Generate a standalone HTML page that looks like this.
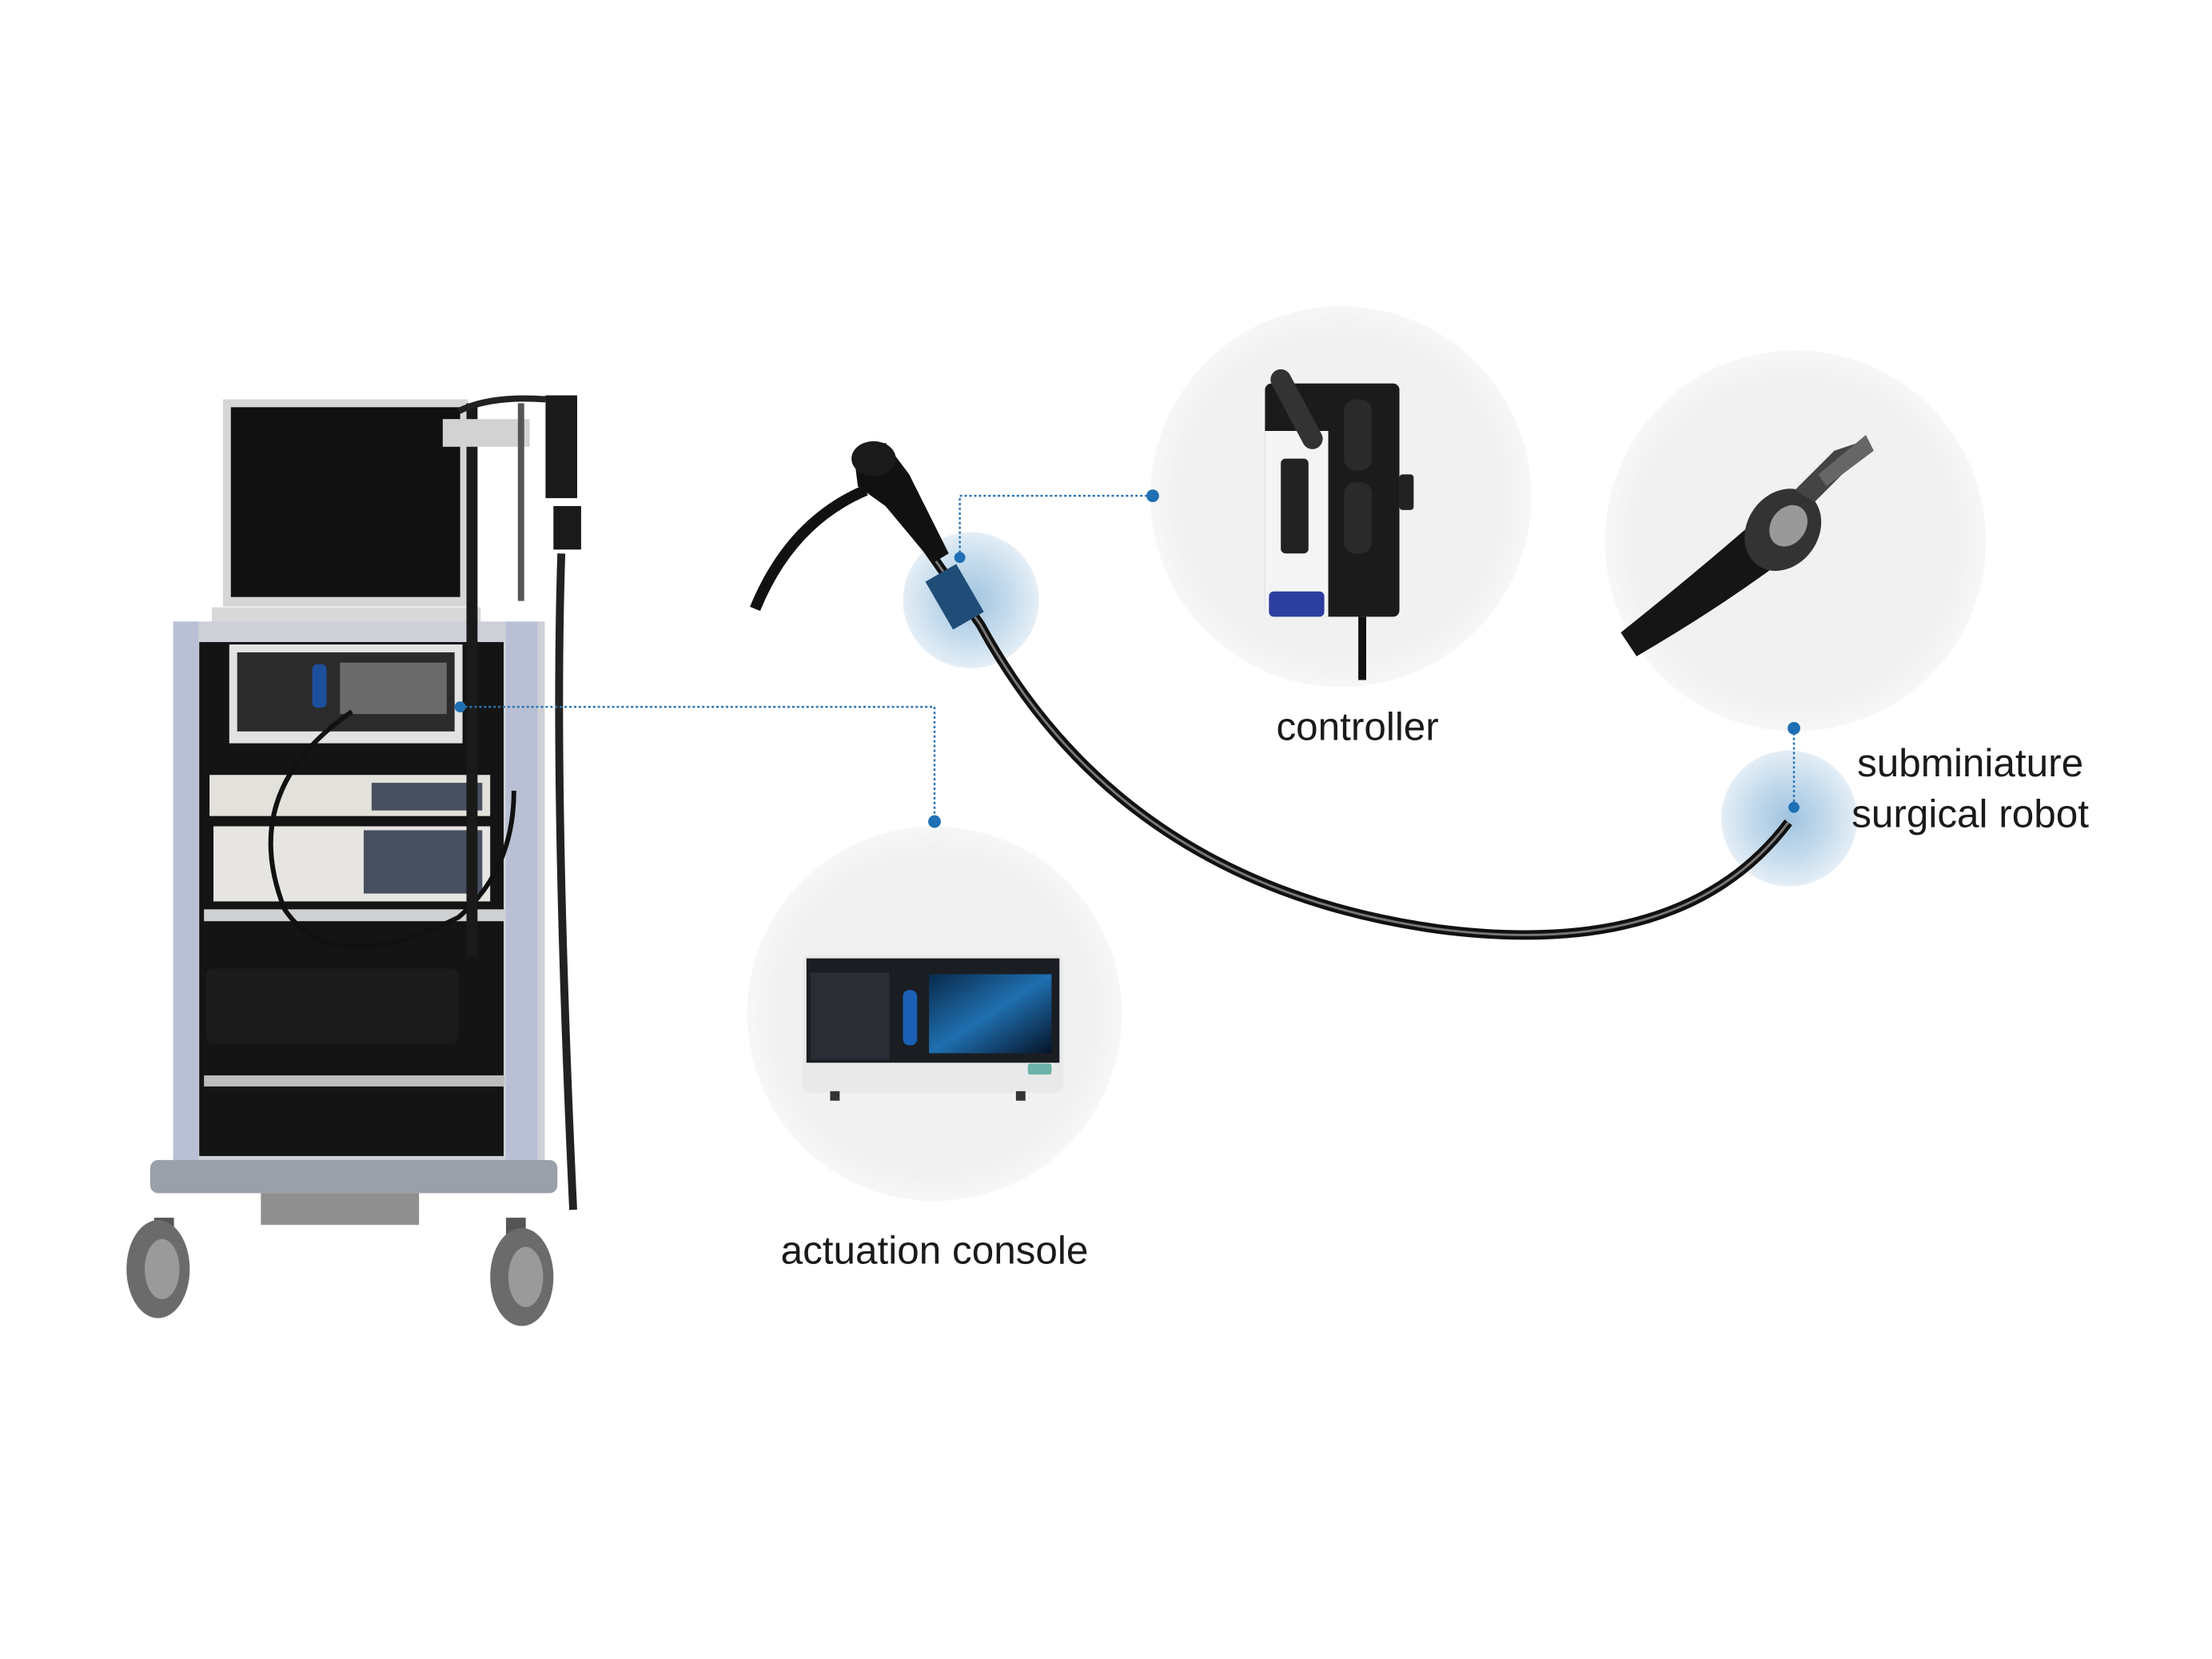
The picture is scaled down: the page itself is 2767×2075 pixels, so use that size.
<!DOCTYPE html>
<html><head><meta charset="utf-8"><style>
html,body{margin:0;padding:0;background:#fff;}
svg{display:block}
text{font-family:"Liberation Sans",sans-serif;fill:#1a1a1a}
</style></head><body>
<svg width="2767" height="2075" viewBox="0 0 2767 2075" xmlns="http://www.w3.org/2000/svg">
<defs>
<radialGradient id="glow" cx="50%" cy="50%" r="50%">
<stop offset="0" stop-color="#9fc3e0"/><stop offset="0.6" stop-color="#c6dced"/><stop offset="1" stop-color="#e4eef6"/>
</radialGradient>
<radialGradient id="disc" cx="50%" cy="50%" r="50%">
<stop offset="0.85" stop-color="#f1f1f1"/><stop offset="1" stop-color="#f7f7f7"/>
</radialGradient>
<linearGradient id="scr" x1="0" y1="0" x2="1" y2="1"><stop offset="0" stop-color="#0a2a4a"/><stop offset="0.5" stop-color="#1f6fb0"/><stop offset="1" stop-color="#061428"/></linearGradient>
</defs>
<rect width="2767" height="2075" fill="#fff"/>
<g transform="scale(0.989)">
<!-- big circles -->
<circle cx="1696" cy="628" r="241" fill="url(#disc)"/>
<circle cx="2271" cy="684" r="241" fill="url(#disc)"/>
<circle cx="1182" cy="1282" r="237" fill="url(#disc)"/>

<!-- glow circles -->
<circle cx="1228" cy="759" r="86" fill="url(#glow)"/>
<circle cx="2263" cy="1035" r="86" fill="url(#glow)"/>

<!-- endoscope tube -->
<path d="M1170 690 L1240 790 Q1420 1120 1820 1175 Q2130 1215 2262 1040" fill="none" stroke="#111" stroke-width="12"/>
<path d="M1170 690 L1240 790 Q1420 1120 1820 1175 Q2130 1215 2262 1040" fill="none" stroke="#777" stroke-width="3"/>
<path d="M1095 620 Q1000 660 955 770" fill="none" stroke="#111" stroke-width="14"/>
<path d="M1080 575 L1120 560 L1150 600 L1200 700 L1180 712 L1120 640 L1085 615 Z" fill="#111"/>
<ellipse cx="1105" cy="580" rx="28" ry="22" fill="#1a1a1a"/>
<rect x="1185" y="720" width="45" height="70" fill="#1f4d78" transform="rotate(-30 1207 755)"/>

<!-- controller device -->
<g>
<rect x="1600" y="485" width="170" height="295" rx="8" fill="#1b1b1b"/>
<rect x="1600" y="545" width="80" height="235" fill="#f4f4f4"/>
<rect x="1620" y="580" width="35" height="120" rx="6" fill="#222"/>
<rect x="1700" y="505" width="35" height="90" rx="14" fill="#2a2a2a"/>
<rect x="1700" y="610" width="35" height="90" rx="14" fill="#2a2a2a"/>
<rect x="1770" y="600" width="18" height="45" rx="4" fill="#222"/>
<rect x="1605" y="748" width="70" height="32" rx="6" fill="#2c3ea0"/>
<path d="M1620 480 L1660 555" stroke="#333" stroke-width="26" stroke-linecap="round"/>
<rect x="1718" y="780" width="10" height="80" fill="#111"/>
</g>

<!-- robot device -->
<g>
<path d="M2050 800 Q2150 720 2230 650 L2280 690 Q2190 760 2070 830 Z" fill="#151515"/>
<ellipse cx="2255" cy="670" rx="45" ry="55" fill="#333" transform="rotate(35 2255 670)"/>
<ellipse cx="2262" cy="665" rx="22" ry="28" fill="#999" transform="rotate(35 2262 665)"/>
<path d="M2270 620 L2320 570 L2350 560 L2340 590 L2295 635 Z" fill="#444"/>
<path d="M2300 600 L2360 550 L2370 570 L2310 615 Z" fill="#666"/>
</g>

<!-- actuation console -->
<g>
<rect x="1015" y="1207" width="330" height="175" rx="10" fill="#e9e9e9"/>
<rect x="1020" y="1212" width="320" height="132" fill="#1a1d22"/>
<rect x="1175" y="1232" width="155" height="100" fill="url(#scr)"/>
<rect x="1142" y="1252" width="18" height="70" rx="8" fill="#1b5fb5"/>
<rect x="1025" y="1230" width="100" height="110" fill="#2a2d33"/>
<rect x="1050" y="1380" width="12" height="12" fill="#333"/>
<rect x="1285" y="1380" width="12" height="12" fill="#333"/>
<rect x="1300" y="1345" width="30" height="14" rx="3" fill="#6cb3a9"/>
</g>

<!-- cart -->
<g>
<rect x="282" y="505" width="310" height="262" fill="#d6d6d6"/>
<rect x="292" y="515" width="290" height="240" fill="#111"/>
<rect x="268" y="768" width="340" height="20" fill="#d8d8d8"/>
<rect x="219" y="786" width="470" height="690" fill="#cdd0d6"/>
<rect x="219" y="786" width="32" height="690" fill="#b9c0d4"/>
<rect x="640" y="786" width="40" height="690" fill="#b9c0d4"/>
<rect x="252" y="812" width="385" height="650" fill="#141414"/>
<rect x="290" y="815" width="295" height="125" fill="#e2e2e2"/>
<rect x="300" y="825" width="275" height="100" fill="#2b2b2b"/>
<rect x="430" y="838" width="135" height="65" fill="#6a6a6a"/>
<rect x="395" y="840" width="18" height="55" rx="6" fill="#1d4f9c"/>
<rect x="265" y="980" width="355" height="52" fill="#e3e1db"/>
<rect x="270" y="1045" width="350" height="95" fill="#e6e5e2"/>
<rect x="460" y="1050" width="150" height="80" fill="#48505f"/>
<rect x="470" y="990" width="140" height="35" fill="#48505f"/>
<rect x="258" y="1150" width="380" height="15" fill="#cfd0d2"/>
<rect x="260" y="1225" width="320" height="95" rx="10" fill="#1b1b1b"/>
<rect x="258" y="1360" width="380" height="14" fill="#bdbdbd"/>
<path d="M445 900 Q300 1000 360 1150 Q420 1240 580 1160 Q650 1100 650 1000" fill="none" stroke="#111" stroke-width="6"/>
<rect x="590" y="510" width="14" height="700" fill="#1a1a1a"/>
<path d="M580 520 Q620 500 690 505" fill="none" stroke="#222" stroke-width="8"/>
<rect x="560" y="530" width="110" height="35" fill="#d2d2d2"/>
<rect x="655" y="510" width="8" height="250" fill="#555"/>
<rect x="690" y="500" width="40" height="130" fill="#1a1a1a"/>
<rect x="700" y="640" width="35" height="55" fill="#1a1a1a"/>
<path d="M710 700 Q700 1000 725 1530" fill="none" stroke="#222" stroke-width="10"/>
<rect x="190" y="1467" width="515" height="42" rx="10" fill="#9aa0aa"/>
<rect x="330" y="1509" width="200" height="40" fill="#8f8f8f"/>
<rect x="195" y="1540" width="25" height="30" fill="#555"/>
<rect x="640" y="1540" width="25" height="30" fill="#555"/>
<ellipse cx="200" cy="1605" rx="40" ry="62" fill="#6b6b6b"/>
<ellipse cx="205" cy="1605" rx="22" ry="38" fill="#9a9a9a"/>
<ellipse cx="660" cy="1615" rx="40" ry="62" fill="#6b6b6b"/>
<ellipse cx="665" cy="1615" rx="22" ry="38" fill="#9a9a9a"/>
</g>

<!-- dotted connectors -->
<g stroke="#2a74b5" stroke-width="2.5" stroke-dasharray="3 3" fill="none">
<path d="M582 894 H1182 V1039"/>
<path d="M1214 705 V627 H1458"/>
<path d="M2269 921 V1021"/>
</g>
<g fill="#1f6fb5">
<circle cx="582" cy="894" r="7"/>
<circle cx="1182" cy="1039" r="8"/>
<circle cx="1214" cy="705" r="7"/>
<circle cx="1458" cy="627" r="8"/>
<circle cx="2269" cy="921" r="8"/>
<circle cx="2269" cy="1021" r="7"/>
</g>

<!-- labels -->
<text x="1717" y="936" font-size="50" text-anchor="middle">controller</text>
<text x="2492" y="982" font-size="50" text-anchor="middle">subminiature</text>
<text x="2492" y="1046" font-size="50" text-anchor="middle">surgical robot</text>
<text x="1182" y="1598" font-size="50" text-anchor="middle">actuation console</text>
</g>
</svg>
</body></html>
